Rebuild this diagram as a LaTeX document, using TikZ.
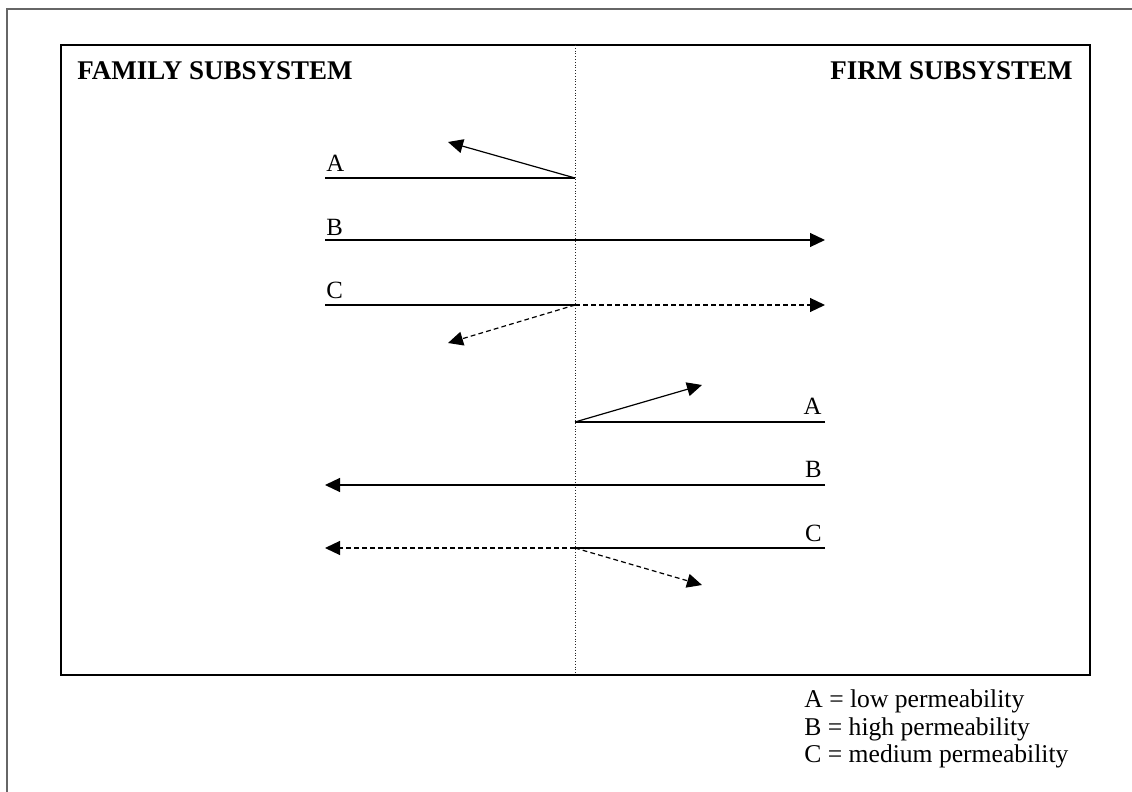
\documentclass[tikz,border=0pt]{standalone}
\usepackage{fontspec}
\setmainfont{Liberation Serif}
\usetikzlibrary{arrows.meta}
\tikzset{
  line-flow/.style={line width=0.6pt,draw=black},
  arrow-flow/.style={-{Triangle[length=7.5pt,width=7pt]},line width=0.6pt,draw=black},
  arrow-weak/.style={arrow-flow,dash pattern=on 2.4pt off 1.6pt},
  boundary/.style={line width=0.5pt,draw=black!85,dash pattern=on 0.5pt off 0.9pt},
  letter/.style={font=\fontsize{12.4}{14}\selectfont,inner sep=0pt},
  head/.style={font=\fontsize{13.5}{16}\selectfont\bfseries,inner sep=0pt},
  key/.style={font=\fontsize{12.8}{14}\selectfont,inner sep=0pt,anchor=base west},
}
\begin{document}
\begin{tikzpicture}[x=0.5pt,y=-0.5pt]
  \useasboundingbox (0,0) rectangle (1132,792);
  % outer frame
  \draw[draw=black!60,line width=0.8pt] (7,792) -- (7,9) -- (1132,9);
  % subsystem box and boundary
  \draw[line width=0.7pt] (61,45) rectangle (1090,675);
  \draw[boundary] (575,45) -- (575,675);
  \node[head,anchor=base west] (family) at (77,80) {FAMILY SUBSYSTEM};
  \node[head,anchor=base east] (firm) at (1073,80) {FIRM SUBSYSTEM};

  % family -> firm
  \coordinate (fa-start) at (325,178);
  \coordinate (fa-gate)  at (575,178);
  \coordinate (fa-back)  at (448,142);
  \coordinate (fb-start) at (325,240);
  \coordinate (fb-end)   at (825,240);
  \coordinate (fc-start) at (325,305);
  \coordinate (fc-gate)  at (575,305);
  \coordinate (fc-end)   at (825,305);
  \coordinate (fc-back)  at (448,343);
  \node[letter,anchor=base west] (fa-label) at (326,172) {A};
  \node[letter,anchor=base west] (fb-label) at (326,235) {B};
  \node[letter,anchor=base west] (fc-label) at (326,299) {C};
  \draw[line-flow]  (fa-start) -- (fa-gate);
  \draw[arrow-flow] (fa-gate) -- (fa-back);
  \draw[arrow-flow] (fb-start) -- (fb-end);
  \draw[line-flow]  (fc-start) -- (fc-gate);
  \draw[arrow-weak] (fc-gate) -- (fc-end);
  \draw[arrow-weak] (fc-gate) -- (fc-back);

  % firm -> family
  \coordinate (ra-start) at (825,422);
  \coordinate (ra-gate)  at (575,422);
  \coordinate (ra-back)  at (702,385);
  \coordinate (rb-start) at (825,485);
  \coordinate (rb-end)   at (325,485);
  \coordinate (rc-start) at (825,548);
  \coordinate (rc-gate)  at (575,548);
  \coordinate (rc-end)   at (325,548);
  \coordinate (rc-back)  at (702,585);
  \node[letter,anchor=base east] (ra-label) at (822,415) {A};
  \node[letter,anchor=base east] (rb-label) at (822,478) {B};
  \node[letter,anchor=base east] (rc-label) at (822,541) {C};
  \draw[line-flow]  (ra-start) -- (ra-gate);
  \draw[arrow-flow] (ra-gate) -- (ra-back);
  \draw[arrow-flow] (rb-start) -- (rb-end);
  \draw[line-flow]  (rc-start) -- (rc-gate);
  \draw[arrow-weak] (rc-gate) -- (rc-end);
  \draw[arrow-weak] (rc-gate) -- (rc-back);

  % legend
  \node[key] (key-a) at (804,707) {A = low permeability};
  \node[key] (key-b) at (804,735) {B = high permeability};
  \node[key] (key-c) at (804,762) {C = medium permeability};
\end{tikzpicture}
\end{document}
